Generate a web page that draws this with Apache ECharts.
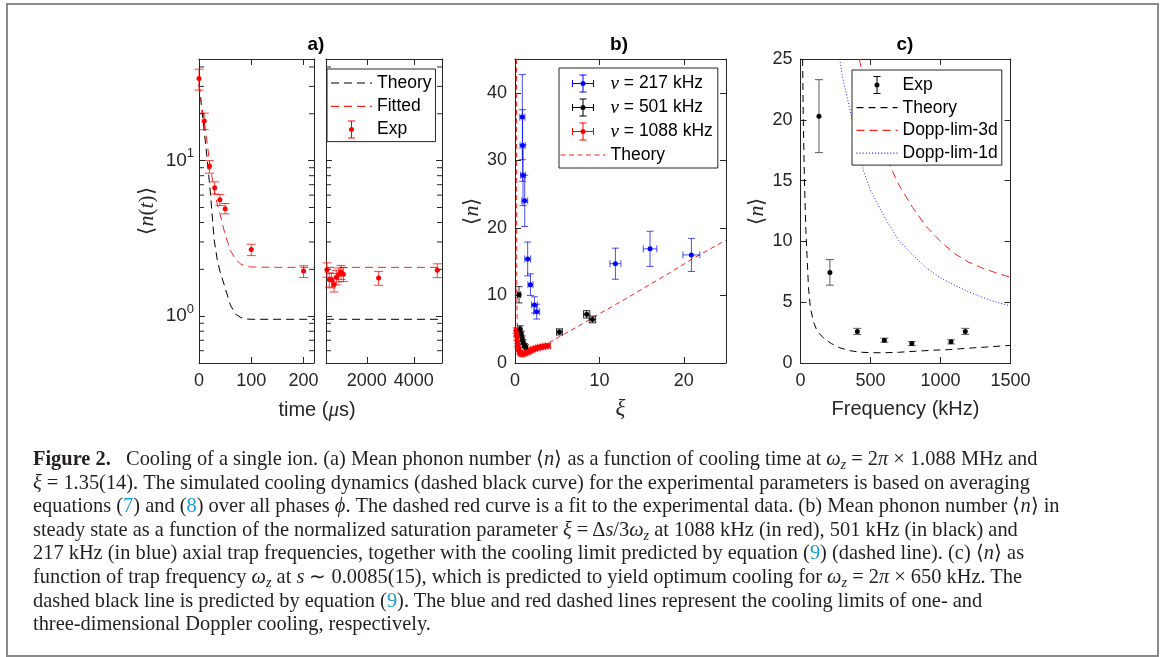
<!DOCTYPE html>
<html><head><meta charset="utf-8">
<script src="https://cdn.jsdelivr.net/npm/echarts@6/dist/echarts.min.js"></script>
<style>
html,body{margin:0;padding:0;background:#fff;}
#chart{position:absolute;left:0;top:0;width:1165px;height:657px;}
#cap{position:absolute;left:33px;top:447px;font-family:'Liberation Serif','Times New Roman',serif;font-size:17px;line-height:23.6px;color:#231f20;white-space:nowrap;}
#cap .l{width:max-content;}
#cap .r{color:#1a9ad6;}
#cap sub{font-size:0.7em;vertical-align:-0.3em;line-height:0;}
</style></head><body>
<div id="chart"></div>
<div id="cap">
<div class="l"><b>Figure 2.</b>&nbsp;&nbsp; Cooling of a single ion. (a) Mean phonon number ⟨<i>n</i>⟩ as a function of cooling time at <i>ω<sub>z</sub></i> = 2<i>π</i> × 1.088 MHz and</div>
<div class="l"><i>ξ</i> = 1.35(14). The simulated cooling dynamics (dashed black curve) for the experimental parameters is based on averaging</div>
<div class="l">equations (<span class="r">7</span>) and (<span class="r">8</span>) over all phases <i>ϕ</i>. The dashed red curve is a fit to the experimental data. (b) Mean phonon number ⟨<i>n</i>⟩ in</div>
<div class="l">steady state as a function of the normalized saturation parameter <i>ξ</i> = Δ<i>s</i>/3<i>ω<sub>z</sub></i> at 1088 kHz (in red), 501 kHz (in black) and</div>
<div class="l">217 kHz (in blue) axial trap frequencies, together with the cooling limit predicted by equation (<span class="r">9</span>) (dashed line). (c) ⟨<i>n</i>⟩ as</div>
<div class="l">function of trap frequency <i>ω<sub>z</sub></i> at <i>s</i> ∼ 0.0085(15), which is predicted to yield optimum cooling for <i>ω<sub>z</sub></i> = 2<i>π</i> × 650 kHz. The</div>
<div class="l">dashed black line is predicted by equation (<span class="r">9</span>). The blue and red dashed lines represent the cooling limits of one- and</div>
<div class="l">three-dimensional Doppler cooling, respectively.</div>
</div>
<script>
// ---------- Panel a (log y) ----------
const aTime  = [0, 10, 20, 30, 40, 50, 100, 200];
const aN     = [33.7, 18.0, 9.2, 6.7, 5.6, 4.9, 2.68, 1.95];
const aNlo   = [28.4, 15.8, 8.3, 6.1, 5.15, 4.55, 2.45, 1.77];
const aNhi   = [38.7, 20.2, 10.0, 7.3, 6.05, 5.3, 2.9, 2.11];
const aTime2 = [300, 400, 500, 600, 700, 800, 900, 1000, 2500, 5000];
const aN2    = [1.99, 1.72, 1.70, 1.60, 1.78, 1.85, 1.92, 1.86, 1.76, 1.97];
const aN2lo  = [1.78, 1.54, 1.52, 1.43, 1.59, 1.66, 1.72, 1.67, 1.58, 1.77];
const aN2hi  = [2.20, 1.90, 1.88, 1.77, 1.97, 2.04, 2.12, 2.05, 1.94, 2.17];
const aTheoryT = [0, 5, 10, 16, 22, 29, 35, 40, 50, 60, 70, 80, 90, 100, 150, 220];
const aTheoryN = [31, 22, 15.5, 10, 6.1, 3.1, 2.3, 1.95, 1.52, 1.18, 1.03, 0.98, 0.96, 0.955, 0.955, 0.955];
const aFitT  = [0, 5, 10, 20, 30, 40, 50, 60, 70, 80, 90, 100, 150, 220];
const aFitN  = [31, 23, 18, 10, 6.1, 4.55, 3.35, 2.65, 2.32, 2.16, 2.09, 2.07, 2.06, 2.06];
const aLongT = [260, 5200];
const aLongTheory = [0.955, 0.955];
const aLongFit = [2.06, 2.06];
const aXTicks = [0, 100, 200];
const aX2Ticks = [2000, 4000];
const aMinorTicks = [0.6, 0.7, 0.8, 0.9, 2, 3, 4, 5, 6, 7, 8, 9, 20, 30, 40];

// ---------- Panel b ----------
const bBlueX    = [0.87, 0.9, 0.95, 1.15, 1.5, 1.83, 2.3, 2.57, 11.9, 16.0, 20.9];
const bBlueY    = [36.4, 32.2, 27.8, 24.0, 15.4, 11.6, 8.6, 7.6, 14.7, 16.9, 16.0];
const bBlueXerr = [0.3, 0.3, 0.3, 0.35, 0.35, 0.3, 0.35, 0.35, 0.65, 0.8, 1.0];
const bBlueYerr = [6.3, 5.3, 4.5, 3.8, 2.5, 1.6, 1.2, 1.1, 2.3, 2.6, 2.45];
const bBlackX    = [0.48, 0.62, 0.75, 0.85, 0.95, 1.1, 1.27, 5.27, 8.5, 9.18];
const bBlackY    = [10.1, 5.0, 4.25, 3.6, 3.1, 2.6, 2.37, 4.6, 7.2, 6.45];
const bBlackXerr = [0.2, 0.12, 0.12, 0.12, 0.12, 0.12, 0.12, 0.35, 0.38, 0.38];
const bBlackYerr = [1.2, 0.5, 0.45, 0.4, 0.35, 0.3, 0.3, 0.45, 0.55, 0.5];
const bRedX    = [0.12, 0.18, 0.22, 0.28, 0.35, 0.45, 0.55, 0.68, 0.8, 0.95, 1.1, 1.3, 1.5, 1.7, 1.9, 2.1, 2.4, 2.7, 3.0, 3.3, 3.6, 3.9];
const bRedY    = [4.8, 4.3, 3.7, 2.9, 2.6, 2.0, 1.6, 1.4, 1.3, 1.35, 1.4, 1.5, 1.6, 1.75, 1.9, 2.0, 2.15, 2.25, 2.35, 2.4, 2.5, 2.55];
const bRedXerr = [0.15, 0.15, 0.15, 0.15, 0.15, 0.2, 0.2, 0.2, 0.2, 0.2, 0.2, 0.2, 0.25, 0.25, 0.25, 0.25, 0.25, 0.25, 0.3, 0.3, 0.3, 0.3];
const bRedYerr = [0.4, 0.4, 0.35, 0.35, 0.3, 0.3, 0.25, 0.25, 0.25, 0.25, 0.25, 0.25, 0.25, 0.25, 0.3, 0.3, 0.3, 0.3, 0.3, 0.3, 0.3, 0.3];
const bTheoryX = [0.18, 0.19, 0.2, 0.22, 0.26, 0.33, 0.45, 0.65, 0.9, 1.2, 1.6, 2.0, 2.5, 3.0, 4.0, 5.0, 6.0, 8.0, 10, 12, 15, 18, 21, 25];
const bTheoryY = [45, 30, 18, 10, 6, 4, 2.8, 2.0, 1.6, 1.45, 1.5, 1.7, 2.0, 2.3, 3.0, 3.7, 4.4, 5.8, 7.3, 8.7, 10.9, 13.1, 15.4, 18.2];
const bXTicks = [0, 10, 20];
const bYTicks = [0, 10, 20, 30, 40];

// ---------- Panel c ----------
const cFreq = [132, 210, 406, 599, 795, 1075, 1177];
const cN    = [20.3, 7.45, 2.6, 1.87, 1.6, 1.74, 2.6];
const cErr  = [3.0, 1.05, 0.25, 0.17, 0.17, 0.17, 0.25];
const cTheoryF = [15, 20, 28, 38, 48, 57, 70, 92, 120, 163, 220, 281, 350, 422, 500, 587, 700, 823, 950, 1059, 1200, 1350, 1500];
const cTheoryN = [25, 20, 15, 11, 8.5, 6.2, 4.6, 3.4, 2.6, 2.07, 1.6, 1.25, 1.02, 0.89, 0.85, 0.84, 0.88, 0.97, 1.05, 1.1, 1.22, 1.33, 1.45];
const cD3F = [420, 500, 600, 700, 800, 900, 1000, 1100, 1200, 1300, 1400, 1500];
const cD3N = [25, 20.8, 17.2, 14.7, 12.8, 11.2, 10.0, 9.0, 8.3, 7.8, 7.4, 7.05];
const cD1F = [280, 300, 350, 400, 450, 500, 600, 700, 800, 900, 1000, 1100, 1200, 1300, 1400, 1500];
const cD1N = [25, 23.5, 21, 18.5, 15.8, 14.2, 12.0, 10.1, 8.9, 7.8, 7.0, 6.4, 5.85, 5.4, 5.0, 4.7];
const cXTicks = [0, 500, 1000, 1500];
const cYTicks = [0, 5, 10, 15, 20, 25];

// ---------- helpers ----------
const SANS = "'Liberation Sans', Arial, Helvetica, sans-serif";
const SERIF = "'Liberation Serif', 'Times New Roman', serif";
const AX = '#262626';
const TICKFS = 18;
const zip = (a, b) => a.map((v, i) => [v, b[i]]);
const plain = v => String(v);

function xAx(grid, min, max, ticks, pos, showLabel, extra) {
  return Object.assign({
    type: 'value', gridIndex: grid, min: min, max: max, position: pos,
    axisLine: {show: true, onZero: false, lineStyle: {color: AX, width: 1}},
    axisTick: {show: true, inside: true, length: 6, customValues: ticks, lineStyle: {color: AX}},
    axisLabel: {show: showLabel, customValues: ticks, formatter: plain, margin: 9, color: AX, fontSize: TICKFS, fontFamily: SANS},
    splitLine: {show: false}
  }, extra || {});
}
function yAx(grid, min, max, ticks, pos, showLabel, extra) {
  return Object.assign({
    type: 'value', gridIndex: grid, min: min, max: max, position: pos,
    axisLine: {show: true, onZero: false, lineStyle: {color: AX, width: 1}},
    axisTick: {show: true, inside: true, length: 6, customValues: ticks, lineStyle: {color: AX}},
    axisLabel: {show: showLabel, customValues: ticks, formatter: plain, margin: 8, color: AX, fontSize: TICKFS, fontFamily: SANS},
    splitLine: {show: false}
  }, extra || {});
}
function logAx(grid, pos, showLabel, extra) {
  return Object.assign({
    type: 'log', logBase: 10, gridIndex: grid, min: 0.5, max: 45, position: pos,
    axisLine: {show: true, onZero: false, lineStyle: {color: AX, width: 1}},
    axisTick: {show: true, inside: true, length: 6, lineStyle: {color: AX}},
    axisLabel: {
      show: showLabel, margin: 5, color: AX,
      formatter: function (v) {
        const l = Math.log10(v), r = Math.round(l);
        if (Math.abs(l - r) < 1e-6) return '{b|10}{s|' + r + '}';
        return '';
      },
      rich: {
        b: {fontSize: 19, fontFamily: SANS, color: AX},
        s: {fontSize: 13, fontFamily: SANS, color: AX, padding: [0, 0, 14, 0]}
      }
    },
    splitLine: {show: false}
  }, extra || {});
}

function errSeries(xi, yi, rows, color, opacity, capY, capX) {
  return {
    type: 'custom', xAxisIndex: xi, yAxisIndex: yi, silent: true, z: 3,
    data: rows,
    renderItem: function (params, api) {
      const x = api.value(0), y = api.value(1);
      const c = api.coord([x, y]);
      const lo = api.coord([x, api.value(2)]), hi = api.coord([x, api.value(3)]);
      const st = {stroke: color, lineWidth: 1, opacity: opacity};
      const ch = [
        {type: 'line', shape: {x1: c[0], y1: lo[1], x2: c[0], y2: hi[1]}, style: st},
        {type: 'line', shape: {x1: c[0] - capY, y1: lo[1], x2: c[0] + capY, y2: lo[1]}, style: st},
        {type: 'line', shape: {x1: c[0] - capY, y1: hi[1], x2: c[0] + capY, y2: hi[1]}, style: st}
      ];
      if (capX) {
        const xl = api.coord([api.value(4), y]), xh = api.coord([api.value(5), y]);
        ch.push({type: 'line', shape: {x1: xl[0], y1: c[1], x2: xh[0], y2: c[1]}, style: st});
        ch.push({type: 'line', shape: {x1: xl[0], y1: c[1] - capX, x2: xl[0], y2: c[1] + capX}, style: st});
        ch.push({type: 'line', shape: {x1: xh[0], y1: c[1] - capX, x2: xh[0], y2: c[1] + capX}, style: st});
      }
      return {type: 'group', children: ch};
    }
  };
}
function minorTicks(xi, yi, xval) {
  return {
    type: 'custom', xAxisIndex: xi, yAxisIndex: yi, silent: true, z: 5,
    data: aMinorTicks.map(v => [xval, v]),
    renderItem: function (params, api) {
      const p = api.coord([api.value(0), api.value(1)]);
      const cs = params.coordSys;
      const st = {stroke: AX, lineWidth: 1};
      return {type: 'group', children: [
        {type: 'line', shape: {x1: cs.x, y1: p[1], x2: cs.x + 5, y2: p[1]}, style: st},
        {type: 'line', shape: {x1: cs.x + cs.width - 5, y1: p[1], x2: cs.x + cs.width, y2: p[1]}, style: st}
      ]};
    }
  };
}
function scatter(name, xi, yi, xs, ys, color) {
  return {type: 'scatter', name: name, xAxisIndex: xi, yAxisIndex: yi, data: zip(xs, ys),
    symbol: 'circle', symbolSize: 5, itemStyle: {color: color, opacity: 1}, z: 4, silent: true};
}
function line(name, xi, yi, xs, ys, color, dash) {
  return {type: 'line', name: name, xAxisIndex: xi, yAxisIndex: yi, data: zip(xs, ys),
    symbol: 'none', showSymbol: false, silent: true, z: 2,
    itemStyle: {color: color},
    lineStyle: {color: color, width: 1, type: dash}};
}
// legend icon for a patterned line (dash length, gap, total width)
function dashIcon(dash, gap, total, th) {
  let p = 'path://';
  for (let x = 0; x < total; x += dash + gap) {
    const w = Math.min(dash, total - x);
    p += 'M' + x + ' 0h' + w + 'v' + th + 'h-' + w + 'z ';
  }
  return p;
}

// error rows
const aRows  = aTime.map((t, i) => [t, aN[i], aNlo[i], aNhi[i]]);
const aRows2 = aTime2.map((t, i) => [t, aN2[i], aN2lo[i], aN2hi[i]]);
const xyRows = (X, Y, XE, YE) => X.map((x, i) => [x, Y[i], Y[i] - YE[i], Y[i] + YE[i], x - XE[i], x + XE[i]]);
const cRows = cFreq.map((f, i) => [f, cN[i], cN[i] - cErr[i], cN[i] + cErr[i]]);

const EB_ICON = 'path://M3 0h1v18h-1z M0 0h7v1h-7z M0 17h7v1h-7z M6 9A2.5 2.5 0 1 1 1 9A2.5 2.5 0 1 1 6 9z';
const EBX_ICON = 'path://M10.5 0h1v18h-1z M7.5 0h7v1h-7z M7.5 17h7v1h-7z M0 8.5h22v1h-22z M0 5.5h1v7h-1z M21 5.5h1v7h-1z M13.5 9A2.5 2.5 0 1 1 8.5 9A2.5 2.5 0 1 1 13.5 9z';

const legendText = {fontSize: 17.5, fontFamily: SANS, color: '#000',
  rich: {i: {fontSize: 19, fontFamily: SERIF, fontStyle: 'italic', color: '#000'}}};
const legendFmt = n => n.trim().replace('ν', '{i|ν}');
function legend(left, top, pad, data, iw, gap) {
  return {left: left, top: top, orient: 'vertical', padding: pad, itemGap: gap, itemWidth: iw, itemHeight: 18,
    borderColor: AX, borderWidth: 1, backgroundColor: '#fff', selectedMode: false, borderRadius: 0,
    textStyle: legendText, formatter: legendFmt, data: data, z: 10, inactiveColor: '#000'};
}

const chart = echarts.init(document.getElementById('chart'), null, {renderer: 'canvas'});
chart.setOption({
  animation: false,
  backgroundColor: '#fff',
  grid: [
    {left: 199, top: 59, width: 115, height: 304, outerBoundsMode: 'none'},
    {left: 326, top: 59, width: 116, height: 304, outerBoundsMode: 'none'},
    {left: 515, top: 59, width: 211, height: 304, outerBoundsMode: 'none'},
    {left: 800.5, top: 59, width: 210, height: 304, outerBoundsMode: 'none'}
  ],
  xAxis: [
    xAx(0, 0, 220, aXTicks, 'bottom', true),
    xAx(0, 0, 220, aXTicks, 'top', false),
    xAx(1, 260, 5200, aX2Ticks, 'bottom', true),
    xAx(1, 260, 5200, aX2Ticks, 'top', false),
    xAx(2, 0, 25, bXTicks, 'bottom', true, {name: 'ξ', nameLocation: 'middle', nameGap: 34,
      nameTextStyle: {fontSize: 23, fontFamily: SERIF, fontStyle: 'italic', color: AX}}),
    xAx(2, 0, 25, bXTicks, 'top', false),
    xAx(3, 0, 1500, cXTicks, 'bottom', true, {name: 'Frequency (kHz)', nameLocation: 'middle', nameGap: 36,
      nameTextStyle: {fontSize: 20, fontFamily: SANS, color: AX}}),
    xAx(3, 0, 1500, cXTicks, 'top', false)
  ],
  yAxis: [
    logAx(0, 'left', true, {name: '⟨{i|n}({i|t})⟩', nameLocation: 'middle', nameGap: 41, nameRotate: 90,
      nameTextStyle: {fontSize: 21, fontFamily: SERIF, color: AX,
        rich: {i: {fontSize: 22, fontFamily: SERIF, fontStyle: 'italic', color: AX}}}}),
    logAx(0, 'right', false),
    logAx(1, 'left', false),
    logAx(1, 'right', false),
    yAx(2, 0, 45, bYTicks, 'left', true, {name: '⟨{i|n}⟩', nameLocation: 'middle', nameGap: 31, nameRotate: 90,
      nameTextStyle: {fontSize: 21, fontFamily: SERIF, color: AX,
        rich: {i: {fontSize: 22, fontFamily: SERIF, fontStyle: 'italic', color: AX}}}}),
    yAx(2, 0, 45, bYTicks, 'right', false),
    yAx(3, 0, 25, cYTicks, 'left', true, {name: '⟨{i|n}⟩', nameLocation: 'middle', nameGap: 31, nameRotate: 90,
      nameTextStyle: {fontSize: 21, fontFamily: SERIF, color: AX,
        rich: {i: {fontSize: 22, fontFamily: SERIF, fontStyle: 'italic', color: AX}}}}),
    yAx(3, 0, 25, cYTicks, 'right', false)
  ],
  legend: [
    legend(327, 69, [5, 4, 3, 4], [
      {name: 'Theory', icon: dashIcon(8, 5, 41, 1.2)},
      {name: 'Fitted', icon: dashIcon(8, 5, 41, 1.2)},
      {name: 'Exp', icon: EB_ICON}], 41, 5.3),
    legend(559, 68, [6, 5, 4, 1.5], [
      {name: 'ν = 217 kHz', icon: EBX_ICON}, {name: 'ν = 501 kHz', icon: EBX_ICON},
      {name: 'ν = 1088 kHz', icon: EBX_ICON}, {name: 'Theory ', icon: dashIcon(5, 3.5, 45, 1.2)}], 45, 5),
    legend(852, 70, [6, 4, 3, 4.5], [
      {name: 'Exp ', icon: EB_ICON}, {name: 'Theory  ', icon: dashIcon(7, 5, 41, 1.2)},
      {name: 'Dopp-lim-3d', icon: dashIcon(8, 5, 41, 1.2)}, {name: 'Dopp-lim-1d', icon: dashIcon(1, 2, 41, 1.2)}], 41, 4.7)
  ],
  graphic: [
    {type: 'rect', shape: {x: 7, y: 4, width: 1151, height: 652}, style: {fill: 'none', stroke: '#8a8a8a', lineWidth: 2}, silent: true},
    {type: 'text', x: 316, y: 45, style: {text: 'a)', font: 'bold 19px ' + SANS, fill: '#000', align: 'center', verticalAlign: 'middle'}},
    {type: 'text', x: 619, y: 45, style: {text: 'b)', font: 'bold 19px ' + SANS, fill: '#000', align: 'center', verticalAlign: 'middle'}},
    {type: 'text', x: 905, y: 45, style: {text: 'c)', font: 'bold 19px ' + SANS, fill: '#000', align: 'center', verticalAlign: 'middle'}},
    {type: 'text', x: 317, y: 410, style: {text: 'time ({i|μ}s)', font: '20px ' + SANS, fill: AX, align: 'center', verticalAlign: 'middle',
      rich: {i: {fontSize: 21, fontFamily: SERIF, fontStyle: 'italic', fill: AX}}}}
  ],
  series: [
    // panel a
    line('Theory', 0, 0, aTheoryT, aTheoryN, '#000000', [8, 5]),
    line('Fitted', 0, 0, aFitT, aFitN, '#ff2020', [8, 5]),
    line('Theory_a2', 2, 2, aLongT, aLongTheory, '#000000', [8, 5]),
    line('Fitted_a2', 2, 2, aLongT, aLongFit, '#ff2020', [8, 5]),
    errSeries(0, 0, aRows, '#ff0000', 0.75, 4.5, 0),
    errSeries(2, 2, aRows2, '#ff0000', 0.75, 4.5, 0),
    scatter('Exp', 0, 0, aTime, aN, '#ff0000'),
    scatter('Exp_a2', 2, 2, aTime2, aN2, '#ff0000'),
    minorTicks(0, 0, 100),
    minorTicks(2, 2, 1000),
    // panel b
    line('Theory ', 4, 4, bTheoryX, bTheoryY, '#ff2020', [5, 3.5]),
    errSeries(4, 4, xyRows(bBlueX, bBlueY, bBlueXerr, bBlueYerr), '#0000ff', 0.7, 3.5, 3.5),
    errSeries(4, 4, xyRows(bBlackX, bBlackY, bBlackXerr, bBlackYerr), '#000000', 0.8, 3.5, 3.5),
    errSeries(4, 4, xyRows(bRedX, bRedY, bRedXerr, bRedYerr), '#ff0000', 0.75, 3.5, 3.5),
    scatter('ν = 217 kHz', 4, 4, bBlueX, bBlueY, '#0000ff'),
    scatter('ν = 501 kHz', 4, 4, bBlackX, bBlackY, '#000000'),
    scatter('ν = 1088 kHz', 4, 4, bRedX, bRedY, '#ff0000'),
    // panel c
    line('Theory  ', 6, 6, cTheoryF, cTheoryN, '#000000', [7, 5]),
    line('Dopp-lim-3d', 6, 6, cD3F, cD3N, '#ff2020', [8, 5]),
    line('Dopp-lim-1d', 6, 6, cD1F, cD1N, '#2020ff', [1, 2]),
    errSeries(6, 6, cRows, '#5a5a5a', 1, 4, 0),
    scatter('Exp ', 6, 6, cFreq, cN, '#000000')
  ]
});

// fit caption font size to reference line width
(function () {
  const cap = document.getElementById('cap');
  const first = cap.querySelector('.l');
  let fs = 17;
  for (let k = 0; k < 4; k++) {
    cap.style.fontSize = fs + 'px';
    const w = first.getBoundingClientRect().width;
    fs = fs * 1004 / w;
  }
  cap.style.fontSize = fs + 'px';
})();
</script>
</body></html>
